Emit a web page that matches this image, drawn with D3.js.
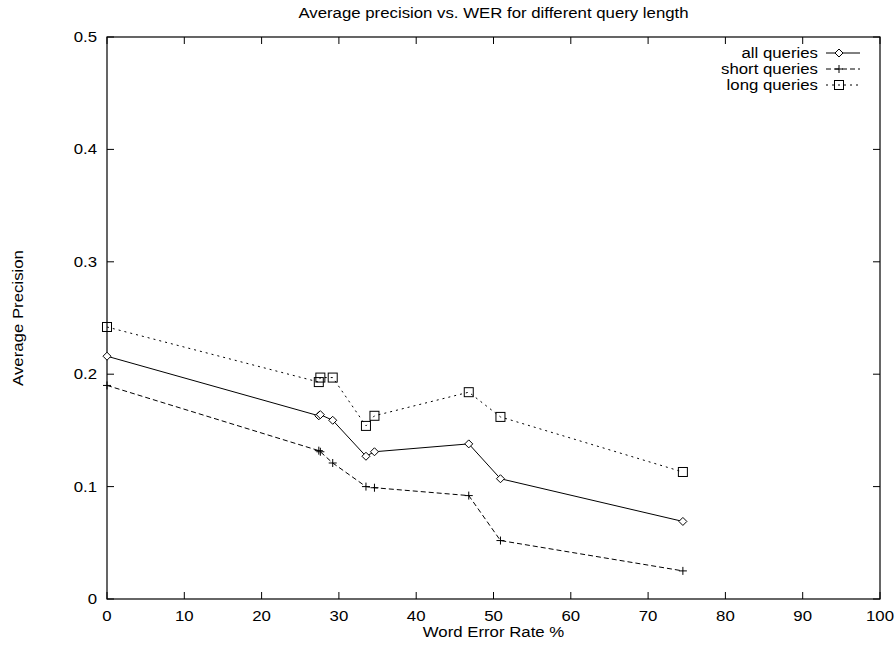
<!DOCTYPE html>
<html lang="en">
<head>
    <meta charset="UTF-8">
    <script src="https://d3js.org/d3.v7.min.js"></script>
    <title>Average precision vs. WER</title>
    <style>
        body { margin: 0; background: white; }
        text { font-family: "Liberation Sans", Arial, sans-serif; font-size: 15px; fill: #000; }
    </style>
</head>
<body>
<div id="chart"></div>
<script>
    // values
    const werValues = [0, 27.4, 27.6, 29.2, 33.5, 34.6, 46.8, 50.9, 74.5];
    const allQueries = [0.216, 0.163, 0.164, 0.159, 0.127, 0.131, 0.138, 0.107, 0.069];
    const shortQueries = [0.190, 0.132, 0.131, 0.121, 0.100, 0.099, 0.092, 0.052, 0.025];
    const longQueries = [0.242, 0.193, 0.197, 0.197, 0.154, 0.163, 0.184, 0.162, 0.113];
    const seriesNames = ["all queries", "short queries", "long queries"];
    const xTicks = [0, 10, 20, 30, 40, 50, 60, 70, 80, 90, 100];
    const yTicks = [0, 0.1, 0.2, 0.3, 0.4, 0.5];

    const W = 896, H = 645;
    const m = {left: 107, right: 16, top: 37, bottom: 46};
    const stretch = 1.12; // the original font is a bit wider than Liberation Sans

    const svg = d3.select("#chart").append("svg")
        .attr("width", W)
        .attr("height", H);

    const x = d3.scaleLinear().domain([0, 100]).range([m.left, W - m.right]);
    const y = d3.scaleLinear().domain([0, 0.5]).range([H - m.bottom, m.top]);

    function label(tx, ty, str, anchor, rot) {
        return svg.append("text")
            .attr("transform", `translate(${tx},${ty})` + (rot ? ` rotate(${rot})` : "") + ` scale(${stretch},1)`)
            .attr("text-anchor", anchor)
            .text(str);
    }

    // inward ticks on all four sides, gnuplot style
    const tickLen = 7;
    const axisG = svg.append("g");
    xTicks.forEach(t => {
        axisG.append("line").attr("x1", x(t)).attr("x2", x(t))
            .attr("y1", y(0)).attr("y2", y(0) - tickLen).attr("stroke", "#000");
        axisG.append("line").attr("x1", x(t)).attr("x2", x(t))
            .attr("y1", y(0.5)).attr("y2", y(0.5) + tickLen).attr("stroke", "#000");
        label(x(t), y(0) + 22, t, "middle");
    });
    yTicks.forEach(t => {
        axisG.append("line").attr("x1", x(0)).attr("x2", x(0) + tickLen)
            .attr("y1", y(t)).attr("y2", y(t)).attr("stroke", "#000");
        axisG.append("line").attr("x1", x(100)).attr("x2", x(100) - tickLen)
            .attr("y1", y(t)).attr("y2", y(t)).attr("stroke", "#000");
        label(x(0) - 10, y(t) + 5, t === 0 ? "0" : d3.format(".1f")(t), "end");
    });

    svg.append("rect")
        .attr("x", x(0)).attr("y", y(0.5))
        .attr("width", x(100) - x(0)).attr("height", y(0) - y(0.5))
        .attr("fill", "none").attr("stroke", "#000").attr("stroke-width", 1.2);

    label((x(0) + x(100)) / 2, 18, "Average precision vs. WER for different query length", "middle");
    label((x(0) + x(100)) / 2, 637, "Word Error Rate %", "middle");
    label(23, (y(0) + y(0.5)) / 2, "Average Precision", "middle", -90);

    const series = [
        {name: seriesNames[0], vals: allQueries, dash: null, marker: "diamond"},
        {name: seriesNames[1], vals: shortQueries, dash: "5,3", marker: "plus"},
        {name: seriesNames[2], vals: longQueries, dash: "2,4", marker: "square"}
    ];

    const line = d3.line().x(d => x(d[0])).y(d => y(d[1]));

    function drawMarker(g, kind, cx, cy) {
        if (kind === "diamond") {
            g.append("path").attr("d", `M${cx},${cy - 4}L${cx + 4},${cy}L${cx},${cy + 4}L${cx - 4},${cy}Z`)
                .attr("fill", "white").attr("stroke", "#000");
        } else if (kind === "plus") {
            g.append("path").attr("d", `M${cx - 4},${cy}H${cx + 4}M${cx},${cy - 4}V${cy + 4}`)
                .attr("stroke", "#000");
        } else {
            g.append("rect").attr("x", cx - 4.5).attr("y", cy - 4.5).attr("width", 9).attr("height", 9)
                .attr("fill", "none").attr("stroke", "#000");
        }
    }

    series.forEach((s, i) => {
        const pts = werValues.map((w, j) => [w, s.vals[j]]);
        svg.append("path").datum(pts)
            .attr("d", line)
            .attr("fill", "none").attr("stroke", "#000").attr("stroke-width", 1)
            .attr("stroke-dasharray", s.dash);
        const g = svg.append("g");
        pts.forEach(p => drawMarker(g, s.marker, x(p[0]), y(p[1])));

        // legend
        const ly = 53 + i * 16;
        label(818, ly + 5, s.name, "end");
        svg.append("line").attr("x1", 826).attr("x2", 860).attr("y1", ly).attr("y2", ly)
            .attr("stroke", "#000").attr("stroke-dasharray", s.dash);
        drawMarker(svg, s.marker, 839, ly);
    });
</script>
</body>
</html>
